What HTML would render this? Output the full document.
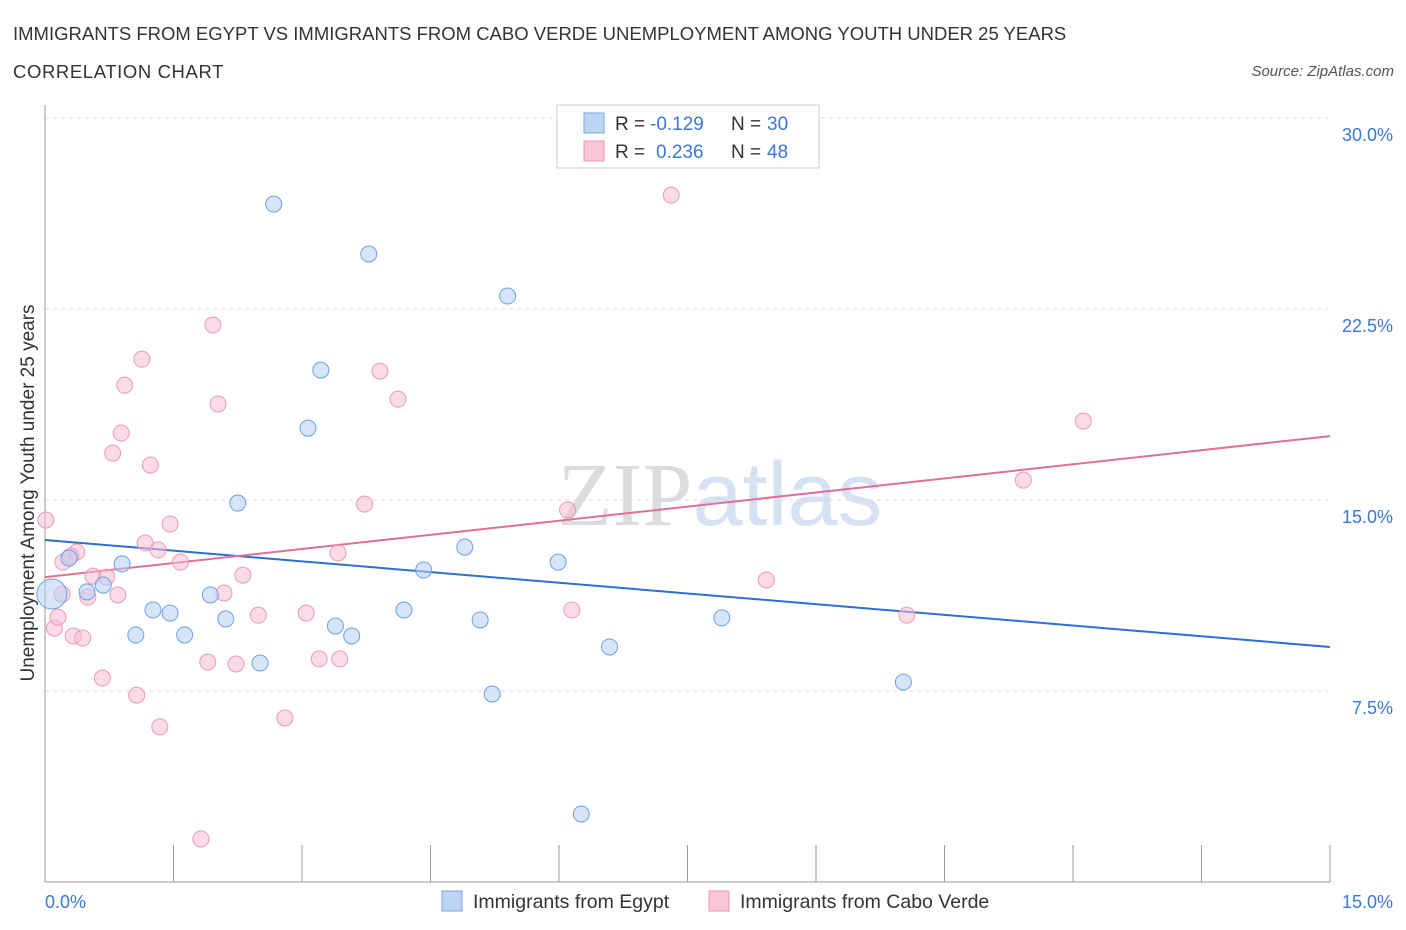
<!DOCTYPE html>
<html><head><meta charset="utf-8"><style>
body{margin:0;background:#fff;font-family:"Liberation Sans",sans-serif;}
</style></head><body>
<svg id="chart" width="1406" height="930" xmlns="http://www.w3.org/2000/svg" style="display:block">
<text x="13" y="40" font-size="18.5" fill="#333">IMMIGRANTS FROM EGYPT VS IMMIGRANTS FROM CABO VERDE UNEMPLOYMENT AMONG YOUTH UNDER 25 YEARS</text>
<text x="13" y="78" font-size="18.5" fill="#333" letter-spacing="0.6">CORRELATION CHART</text>
<text x="1394" y="76" font-size="15" fill="#555" text-anchor="end" font-style="italic">Source: ZipAtlas.com</text>
<text x="720" y="525" font-size="90" text-anchor="middle" fill="#e4e8ef"><tspan font-family="Liberation Serif" fill="#dcdcdc">ZIP</tspan><tspan fill="#d6e2f3">atlas</tspan></text>
<g id="grid"></g>
<g id="axes"></g>
<g id="lines"></g>
<g id="points"></g>
<text transform="translate(34,493) rotate(-90)" font-size="19" fill="#333" text-anchor="middle">Unemployment Among Youth under 25 years</text>
<g>
<rect x="557" y="105" width="262" height="63" fill="#fff" stroke="#ccc"/>
<rect x="584" y="113" width="20" height="20" fill="#bcd5f5" stroke="#7aa6e0"/>
<text x="615" y="130" font-size="19" fill="#333">R =</text>
<text x="650" y="130" font-size="19" fill="#3a78d8">-0.129</text>
<text x="731" y="130" font-size="19" fill="#333">N =</text>
<text x="767" y="130" font-size="19" fill="#3a78d8">30</text>
<rect x="584" y="141" width="20" height="20" fill="#f9c8d6" stroke="#eb99b3"/>
<text x="615" y="158" font-size="19" fill="#333">R =</text>
<text x="656" y="158" font-size="19" fill="#3a78d8">0.236</text>
<text x="731" y="158" font-size="19" fill="#333">N =</text>
<text x="767" y="158" font-size="19" fill="#3a78d8">48</text>
</g>
<g>
<rect x="442" y="891" width="20" height="20" fill="#bcd5f5" stroke="#7aa6e0"/>
<text x="473" y="908" font-size="19.5" fill="#333">Immigrants from Egypt</text></g>
<g>
<rect x="709" y="891" width="20" height="20" fill="#f9c8d6" stroke="#eb99b3"/>
<text x="740" y="908" font-size="19.5" fill="#333">Immigrants from Cabo Verde</text></g>
</svg>
<script>
const egyptX=[0.08,0.28,0.49,0.68,0.90,1.06,1.26,1.46,1.63,1.93,2.11,2.25,2.51,2.67,3.07,3.22,3.39,3.58,3.78,4.19,4.42,4.90,5.08,5.22,5.40,5.99,6.26,6.59,7.90,10.02];
const egyptY=[11.31,12.72,11.39,11.66,12.49,9.70,10.68,10.56,9.70,11.27,10.33,14.88,8.60,26.62,17.82,20.10,10.05,9.66,24.66,10.68,12.25,13.15,10.29,7.38,23.01,12.56,2.67,9.23,10.37,7.85];
const caboX=[0.01,0.11,0.15,0.21,0.33,0.37,0.44,0.50,0.56,0.67,0.72,0.79,0.85,0.89,0.93,1.07,1.13,1.17,1.23,1.32,1.34,1.46,1.58,1.82,1.90,1.96,2.02,2.09,2.23,2.31,2.49,2.80,3.05,3.20,3.42,3.44,3.73,3.91,4.12,6.10,6.15,7.31,8.42,10.06,11.42,12.12,0.30,0.20];
const caboY=[14.21,9.97,10.40,12.56,9.66,12.96,9.58,11.19,12.01,8.01,11.97,16.84,11.27,17.63,19.51,7.34,20.53,13.31,16.37,13.04,6.09,14.06,12.56,1.69,8.64,21.87,18.77,11.35,8.56,12.05,10.48,6.44,10.56,8.76,12.92,8.76,14.84,20.06,18.96,14.61,10.68,26.97,11.86,10.48,15.78,18.10,12.8,11.3];
const trendEgypt=[13.43,9.23];
const trendCabo=[11.97,17.51];
const yTicks=[7.5,15,22.5,30];
const xTicks=[0,1.5,3,4.5,6,7.5,9,10.5,12,13.5,15];
const NS="http://www.w3.org/2000/svg";
const sx=v=>45+v*(1285/15), sy=v=>882-v*(191/7.5);
function mk(tag,attrs,parent){const e=document.createElementNS(NS,tag);for(const k in attrs)e.setAttribute(k,attrs[k]);document.getElementById(parent).appendChild(e);return e;}
yTicks.forEach(t=>{
 const l=mk('line',{x1:45,x2:1330,y1:sy(t),y2:sy(t),stroke:'#ddd','stroke-dasharray':'4,4'},'grid');
 
 
 const tx=mk('text',{x:1393,y:sy(t)+23,'font-size':18,fill:'#3a78d8','text-anchor':'end'},'grid');
 tx.textContent=t.toFixed(1)+'%';
 
 
});
const ax=mk('line',{x1:45,x2:1330,y1:882,y2:882,stroke:'#999'},'axes');


const ay=mk('line',{x1:45,x2:45,y1:105,y2:882,stroke:'#999'},'axes');


xTicks.forEach(t=>{
 const l=mk('line',{x1:sx(t),x2:sx(t),y1:845,y2:882,stroke:'#999'},'axes');
 
 
});
[[0,'start',45],[15,'end',1393]].forEach(([t,a,x])=>{
 const tx=mk('text',{x:x,y:908,'font-size':18,fill:'#3a78d8','text-anchor':a},'axes');
 tx.textContent=t.toFixed(1)+'%';
 
 
});
const l1=mk('line',{x1:sx(0),y1:sy(trendEgypt[0]),x2:sx(15),y2:sy(trendEgypt[1]),stroke:'#2a6fd6','stroke-width':2},'lines');


const l2=mk('line',{x1:sx(0),y1:sy(trendCabo[0]),x2:sx(15),y2:sy(trendCabo[1]),stroke:'#e0709a','stroke-width':2},'lines');


caboX.forEach((x,i)=>{
 const c=mk('circle',{cx:sx(x),cy:sy(caboY[i]),r:8,fill:'rgba(248,190,208,0.55)',stroke:'#eb9ab4','stroke-width':1},'points');
 
 
});
egyptX.forEach((x,i)=>{
 const c=mk('circle',{cx:sx(x),cy:sy(egyptY[i]),r:i==0?15:8,fill:'rgba(180,208,245,0.55)',stroke:'#6f9fe0','stroke-width':1},'points');
 
 
});
</script>
</body></html>
